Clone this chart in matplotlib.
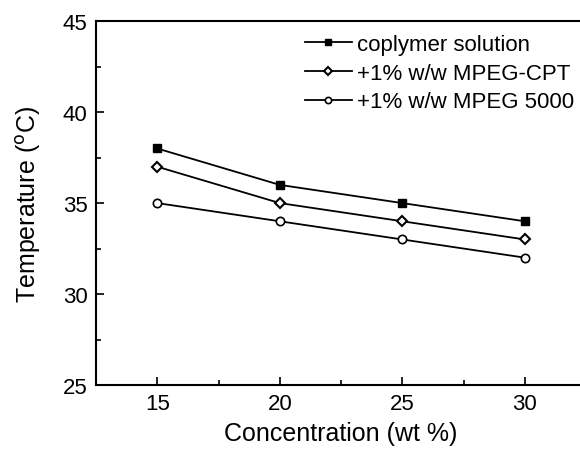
import matplotlib
matplotlib.use("Agg")
import matplotlib.pyplot as plt
from matplotlib.ticker import MultipleLocator

plt.rcParams['font.family'] = ['Liberation Sans', 'DejaVu Sans']

conc = [15, 20, 25, 30]
copolymer = [38, 36, 35, 34]
mpeg_cpt = [37, 35, 34, 33]
mpeg_5000 = [35, 34, 33, 32]

fig = plt.figure(figsize=(5.8, 4.52), dpi=100)
ax = fig.add_axes([0.1655, 0.146, 0.845, 0.805])

ax.plot(conc, copolymer, '-s', color='k', lw=1.3, ms=6, mfc='k',
        label='coplymer solution')
ax.plot(conc, mpeg_cpt, '-D', color='k', lw=1.3, ms=5.5, mfc='white', mew=1.5,
        label='+1% w/w MPEG-CPT')
ax.plot(conc, mpeg_5000, '-o', color='k', lw=1.3, ms=6, mfc='white', mew=1.2,
        label='+1% w/w MPEG 5000')

ax.set_xlim(12.5, 32.5)
ax.set_ylim(25, 45)
ax.xaxis.set_major_locator(MultipleLocator(5))
ax.xaxis.set_minor_locator(MultipleLocator(2.5))
ax.yaxis.set_major_locator(MultipleLocator(5))
ax.yaxis.set_minor_locator(MultipleLocator(2.5))
ax.tick_params(which='both', direction='in', top=False, right=False,
               labelsize=16, width=1.2)
ax.tick_params(which='major', length=6, pad=6)
ax.tick_params(which='minor', length=3.5)
for s in ax.spines.values():
    s.set_linewidth(1.5)

ax.set_xlabel('Concentration (wt %)', fontsize=18, labelpad=5)
ax.set_ylabel('Temperature ($^{\\rm o}$C)', fontsize=18, labelpad=14)

leg = ax.legend(loc='upper left', bbox_to_anchor=(0.395, 1.008), frameon=False,
                fontsize=16, handlelength=2.1, handletextpad=0.25,
                labelspacing=0.35, borderaxespad=0.3, markerscale=0.75)

fig.savefig('out.png', dpi=100)
